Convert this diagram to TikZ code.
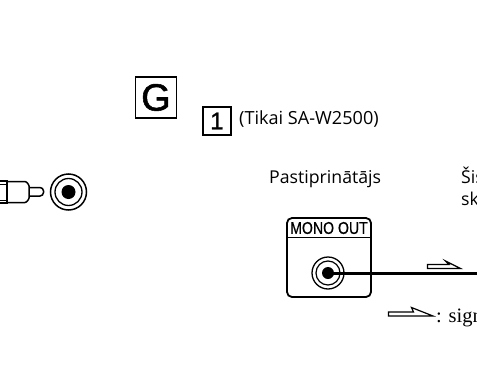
\documentclass[tikz,border=0pt]{standalone}
\usepackage{fontspec}
\setmainfont{Open Sans}
\newfontfamily\arialf[FakeBold=0.6]{Liberation Sans}
\newfontfamily\arialg[FakeBold=1.4]{Liberation Sans}
\newfontfamily\timesf{Liberation Serif}
\begin{document}
\begin{tikzpicture}[x=1pt,y=-1pt,
  lab/.style={anchor=base west,inner sep=0pt,font=\fontsize{17.7}{17.7}\selectfont},
  ln/.style={draw=black,line width=1.5pt},
  hollowarrow/.style={draw=black,line width=1.2pt,fill=white,line join=miter}]
\useasboundingbox (0,0) rectangle (477,367);
\clip (0,0) rectangle (477,367);
% boxed letters
\node[draw,line width=1.7pt,minimum width=41pt,minimum height=41pt,inner sep=0pt,font=\arialg\fontsize{38}{38}\selectfont] (g) at (156,97.5) {G};
\node[draw,line width=1.6pt,minimum width=28pt,minimum height=28pt,inner sep=0pt,font=\arialg\fontsize{24}{24}\selectfont] (one) at (217,121) {1};
\node[lab,font=\fontsize{18.1}{18.1}\selectfont] (model) at (239,124) {(Tikai SA-W2500)};
\node[lab] (amp) at (269,183) {Pastiprinātājs};
\node[lab] (sis) at (461,183) {Šis};
\node[lab] (sk) at (461,205) {sk};
% left plug
\draw[ln] (0,181) -- (7,181) -- (7,203) -- (0,203);
\draw[ln,line width=1pt] (0,184) -- (7,184) (0,200) -- (7,200);
\draw[ln,rounded corners=1pt] (7,181.5) -- (26,181.5) -- (29,185) -- (29,199) -- (26,202.5) -- (7,202.5);
\draw[ln,rounded corners=3.5pt] (29,187.5) -- (43.5,187.5) -- (43.5,196) -- (29,196);
% left socket
\node[circle,draw,line width=1.5pt,minimum size=36pt,inner sep=0pt] (sockA) at (68.5,192) {};
\node[circle,draw,line width=1.3pt,minimum size=27pt,inner sep=0pt] (sockB) at (sockA.center) {};
\node[circle,fill=black,minimum size=14pt,inner sep=0pt] (sockC) at (sockA.center) {};
% MONO OUT panel
\node[draw,line width=1.8pt,rounded corners=5pt,minimum width=84pt,minimum height=79pt,inner sep=0pt] (panel) at (329,257.5) {};
\draw[ln,line width=1pt] (panel.west |- 0,237) -- (panel.east |- 0,237);
\node[inner sep=0pt,font=\arialf\fontsize{17}{17}\selectfont,xscale=.83] (mono) at (329,228) {MONO OUT};
\node[circle,draw,line width=1.3pt,minimum size=32pt,inner sep=0pt] (jackA) at (328,273) {};
\node[circle,draw,line width=1.2pt,minimum size=24pt,inner sep=0pt] (jackB) at (jackA.center) {};
\node[circle,fill=black,minimum size=12pt,inner sep=0pt] (jackC) at (jackA.center) {};
\coordinate (lineend) at (477,273.5);
\draw[line width=2.6pt] (jackA.center) ++(0,0.5) -- (lineend);
% signal arrows
\draw[hollowarrow] (427.5,264.5) -- (449,264.5) -- (445.5,261) -- (460.5,268.5) -- (427.5,268.5) -- cycle;
\draw[hollowarrow] (388.5,312) -- (413.5,312) -- (411.5,307.5) -- (433,316) -- (388.5,316) -- cycle;
\node[anchor=base west,inner sep=0pt,font=\timesf\fontsize{20.5}{20.5}\selectfont] (sig) at (436,322) {: sign};
\end{tikzpicture}
\end{document}
